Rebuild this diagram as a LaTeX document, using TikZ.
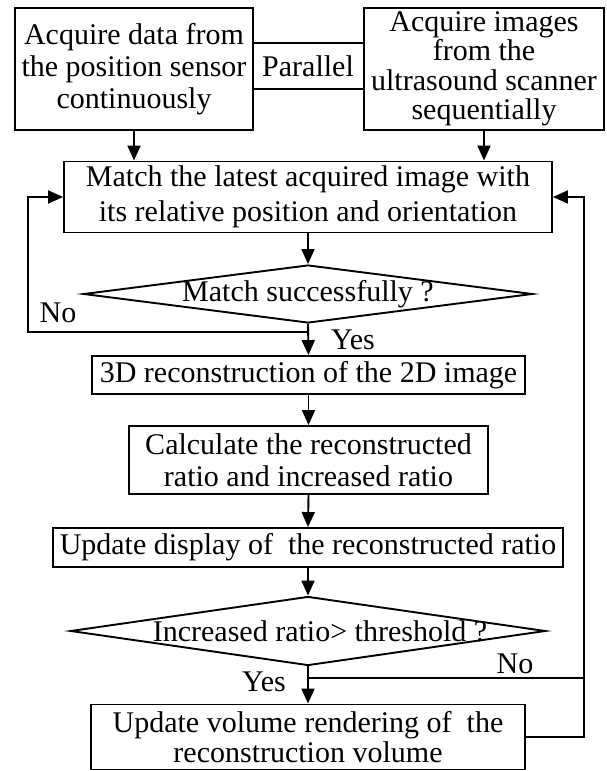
\documentclass[tikz,border=0pt]{standalone}
\usepackage{fontspec}
\setmainfont{Liberation Serif}
\usetikzlibrary{arrows.meta,shapes.geometric}
\newcommand\flowfont[1]{\fontsize{30}{#1}\selectfont}
\begin{document}
\begin{tikzpicture}[x=1pt,y=-1pt,
  box/.style={draw,line width=1.9pt,inner sep=0pt,align=center},
  dec/.style={diamond,draw,line width=1.9pt,inner sep=0pt},
  conn/.style={line width=1.9pt},
  arr/.style={conn,-{Triangle[length=15pt,width=13pt]}},
  lbl/.style={inner sep=0pt,font=\flowfont{32}}]
\useasboundingbox (0,0) rectangle (607,771);
\fill[white] (0,0) rectangle (607,771);

% two parallel acquisition tasks
\node[box,minimum width=238,minimum height=122,font=\flowfont{32}] (A) at (134,69)
  {Acquire data from\\the position sensor\\continuously};
\node[box,minimum width=240,minimum height=122,font=\flowfont{29.5}] (B) at (484,69)
  {Acquire images\\from the\\ultrasound scanner\\sequentially};
\node[lbl,minimum height=46] (par) at (308,66) {Parallel};
\draw[conn] (A.east |- par.north) -- (B.west |- par.north);
\draw[conn] (A.east |- par.south) -- (B.west |- par.south);

% matching step
\node[box,minimum width=488,minimum height=71,font=\flowfont{35}] (M) at (308,197)
  {Match the latest acquired image with\\its relative position and orientation};
\node[dec,minimum width=449,minimum height=58] (d1) at (308,294) {};
\node[lbl] at (d1.center) {Match successfully ?};

% reconstruction steps
\node[box,minimum width=433,minimum height=38,font=\flowfont{32}] (R) at (308.5,375)
  {3D reconstruction of the 2D image};
\node[box,minimum width=359,minimum height=68,font=\flowfont{32}] (C) at (308.5,460)
  {Calculate the reconstructed\\ratio and increased ratio};
\node[box,minimum width=510,minimum height=39,font=\flowfont{32}] (U) at (308,547.5)
  {Update display of\ \ the reconstructed ratio};
\node[dec,minimum width=475,minimum height=69] (d2) at (308,631) {};
\node[lbl] at (320,631) {Increased ratio> threshold ?};
\node[box,minimum width=434,minimum height=65,font=\flowfont{30}] (V) at (308,737)
  {Update volume rendering of\ \ the\\reconstruction volume};

% forward flow
\draw[arr] (A.south) -- (A.south |- M.north);
\draw[arr] (B.south) -- (B.south |- M.north);
\draw[arr] (M.south) -- (d1.north);
\draw[arr] (d1.south) -- (R.north);
\draw[arr] (R.south) -- (C.north);
\draw[arr] (C.south) -- (U.north);
\draw[arr] (U.south) -- (d2.north);
\draw[arr] (d2.south) -- (V.north);

% loop back when matching fails
\coordinate (lj) at (28,332);
\draw[arr] (d1.south) |- (lj) |- (M.west);
\node[lbl] at (58,313) {No};
\node[lbl] at (353,340) {Yes};

% loop back after rendering or when the increase is small
\coordinate (rj) at (584,737);
\coordinate (nj) at (584,678);
\draw[arr] (V.east) -- (rj) |- (M.east);
\draw[conn] (d2.south) |- (nj);
\node[lbl] at (515,664) {No};
\node[lbl] at (264,682) {Yes};
\end{tikzpicture}
\end{document}
